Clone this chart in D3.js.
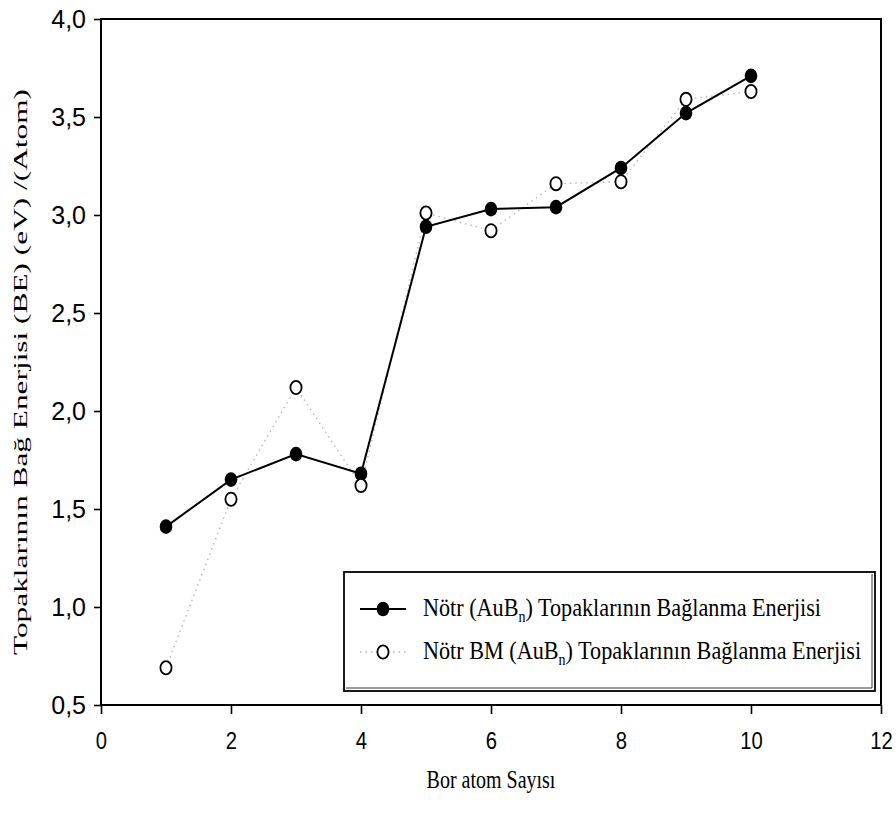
<!DOCTYPE html>
<html>
<head>
<meta charset="utf-8">
<script src="https://cdn.jsdelivr.net/npm/d3@7"></script>
<style>
  html, body { margin: 0; padding: 0; background: #fff; }
  svg { display: block; }
</style>
</head>
<body>
<svg id="chart" width="896" height="820"></svg>
<script>
// Boron atom count (n) for the AuB_n clusters
const atomCounts = [1, 2, 3, 4, 5, 6, 7, 8, 9, 10];
// Binding energy per atom (eV) of the neutral AuB_n clusters
const neutralBE = [1.41, 1.65, 1.78, 1.68, 2.94, 3.03, 3.04, 3.24, 3.52, 3.71];
// Binding energy per atom (eV) of the neutral BM AuB_n clusters
const neutralBmBE = [0.69, 1.55, 2.12, 1.62, 3.01, 2.92, 3.16, 3.17, 3.59, 3.63];
const xTicks = [0, 2, 4, 6, 8, 10, 12];
const yTicks = [0.5, 1.0, 1.5, 2.0, 2.5, 3.0, 3.5, 4.0];
const seriesNames = [
  "Nötr (AuB|n|) Topaklarının Bağlanma Enerjisi",
  "Nötr BM (AuB|n|) Topaklarının Bağlanma Enerjisi"
];

const svg = d3.select("#chart");
const plot = { left: 101, right: 881, top: 19, bottom: 705 };

const x = d3.scaleLinear().domain([0, 12]).range([plot.left, plot.right]);
const y = d3.scaleLinear().domain([0.5, 4.0]).range([plot.bottom, plot.top]);

const sans = "'Liberation Sans', Arial, sans-serif";
const serif = "'Liberation Serif', 'Times New Roman', serif";

// Axes
const yAxis = svg.append("g")
  .attr("transform", `translate(${plot.left},0)`)
  .call(d3.axisLeft(y).tickValues(yTicks).tickSize(7).tickPadding(8)
    .tickFormat(d => d3.format(".1f")(d).replace(".", ",")));
const xAxis = svg.append("g")
  .attr("transform", `translate(0,${plot.bottom})`)
  .call(d3.axisBottom(x).tickValues(xTicks).tickSize(9).tickPadding(12)
    .tickFormat(d3.format("d")));

[yAxis, xAxis].forEach(g => {
  g.select(".domain").remove();
  g.selectAll(".tick line").attr("stroke", "#000").attr("stroke-width", 1.6);
});
yAxis.selectAll(".tick text")
  .attr("font-family", sans).attr("font-size", 25).attr("fill", "#000");
xAxis.selectAll(".tick text")
  .attr("font-family", sans).attr("font-size", 22).attr("fill", "#000")
  .attr("transform", "scale(0.92,1.1)")
  .attr("dy", 0)
  .attr("y", 40);

// Plot frame
svg.append("rect")
  .attr("x", plot.left).attr("y", plot.top)
  .attr("width", plot.right - plot.left).attr("height", plot.bottom - plot.top)
  .attr("fill", "none").attr("stroke", "#000").attr("stroke-width", 2);

// Series lines
const line = d3.line().x((d, i) => x(atomCounts[i])).y(d => y(d));

svg.append("path").datum(neutralBmBE)
  .attr("d", line).attr("fill", "none")
  .attr("stroke", "#b8b8b8").attr("stroke-width", 1.4)
  .attr("stroke-dasharray", "1.5,4");

svg.append("path").datum(neutralBE)
  .attr("d", line).attr("fill", "none")
  .attr("stroke", "#000").attr("stroke-width", 2);

// Markers
svg.append("g").selectAll("ellipse").data(neutralBE).join("ellipse")
  .attr("cx", (d, i) => x(atomCounts[i])).attr("cy", d => y(d))
  .attr("rx", 6.3).attr("ry", 7.3).attr("fill", "#000");

svg.append("g").selectAll("ellipse").data(neutralBmBE).join("ellipse")
  .attr("cx", (d, i) => x(atomCounts[i])).attr("cy", d => y(d))
  .attr("rx", 5.6).attr("ry", 6.6).attr("fill", "#fff")
  .attr("stroke", "#000").attr("stroke-width", 1.8);

// Axis titles
svg.append("text")
  .attr("transform", "translate(491,788) scale(1,1.25)")
  .attr("text-anchor", "middle")
  .attr("font-family", serif).attr("font-size", 20).attr("fill", "#000")
  .text("Bor atom Sayısı");

svg.append("text")
  .attr("transform", "translate(27,372) rotate(-90)")
  .attr("text-anchor", "middle")
  .attr("font-family", serif).attr("font-size", 19).attr("fill", "#000")
  .attr("textLength", 566).attr("lengthAdjust", "spacingAndGlyphs")
  .text("Topaklarının Bağ  Enerjisi (BE) (eV) /(Atom)");

// Legend
const lg = svg.append("g");
const lgBox = { x: 344, y: 572, w: 531, h: 119 };
lg.append("rect")
  .attr("x", lgBox.x).attr("y", lgBox.y).attr("width", lgBox.w).attr("height", lgBox.h)
  .attr("fill", "#fff").attr("stroke", "#000").attr("stroke-width", 1.8);
lg.append("path")
  .attr("d", `M${lgBox.x + lgBox.w - 3},${lgBox.y + 2} V${lgBox.y + lgBox.h - 3} H${lgBox.x + 2}`)
  .attr("fill", "none").attr("stroke", "#000").attr("stroke-width", 0.8);

const rows = [
  { name: seriesNames[0], cy: 609, solid: true },
  { name: seriesNames[1], cy: 652, solid: false }
];
rows.forEach(r => {
  lg.append("line")
    .attr("x1", 360).attr("x2", 406).attr("y1", r.cy).attr("y2", r.cy)
    .attr("stroke", r.solid ? "#000" : "#b8b8b8")
    .attr("stroke-width", r.solid ? 2 : 1.4)
    .attr("stroke-dasharray", r.solid ? null : "1.5,4");
  lg.append("ellipse")
    .attr("cx", 383).attr("cy", r.cy)
    .attr("rx", r.solid ? 6.3 : 5.6).attr("ry", r.solid ? 7.3 : 6.6)
    .attr("fill", r.solid ? "#000" : "#fff")
    .attr("stroke", r.solid ? null : "#000").attr("stroke-width", 1.8);

  const parts = r.name.split("|");
  const t = lg.append("text")
    .attr("x", 423).attr("y", 0)
    .attr("font-family", serif).attr("font-size", 22.2).attr("fill", "#000")
    .attr("transform", `translate(0,${r.cy + 7}) scale(1,1.12)`);
  t.append("tspan").text(parts[0]);
  t.append("tspan").attr("font-size", 14).attr("dy", 5).text(parts[1]);
  t.append("tspan").attr("dy", -5).text(parts[2]);
});
</script>
</body>
</html>
